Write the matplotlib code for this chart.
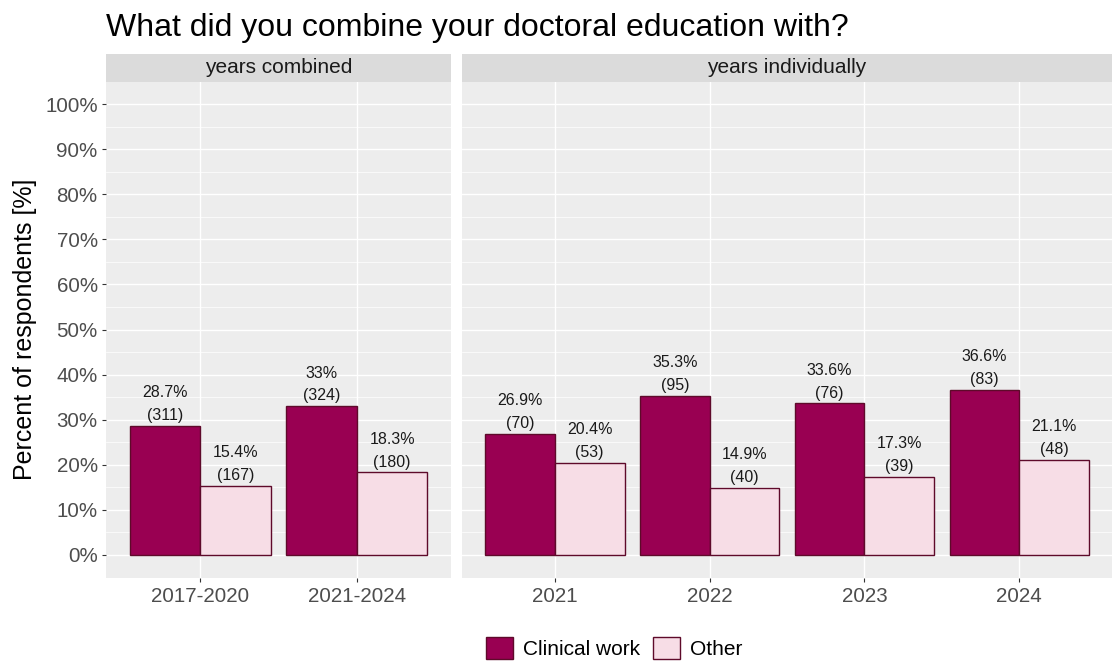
import numpy as np
import matplotlib
matplotlib.use('Agg')
import matplotlib.pyplot as plt
from matplotlib.patches import Patch

plt.rcParams['font.family'] = ['Liberation Sans', 'DejaVu Sans']

# data
panels = ['years combined', 'years individually']
cats_combined = ['2017-2020', '2021-2024']
cats_single = ['2021', '2022', '2023', '2024']
clin_combined = [28.7, 33.0]
clin_combined_n = [311, 324]
other_combined = [15.4, 18.3]
other_combined_n = [167, 180]
clin_single = [26.9, 35.3, 33.6, 36.6]
clin_single_n = [70, 95, 76, 83]
other_single = [20.4, 14.9, 17.3, 21.1]
other_single_n = [53, 40, 39, 48]
series = ['Clinical work', 'Other']

c_clin = '#990052'
c_other = '#F7DDE6'
c_edge = '#5E0A2A'
panel_bg = '#EDEDED'
strip_bg = '#DBDBDB'

W, H = 1114, 664
fig = plt.figure(figsize=(W / 100, H / 100), dpi=100)

def fx(px):
    return px / W

def fy(py):
    return 1 - py / H

p_top, p_bot = 81.5, 577.5
s_top = 54
boxes = [(106, 451), (462, 1112)]

def fmt(v):
    s = ('%.1f' % v).rstrip('0').rstrip('.')
    return s + '%'

data = [(cats_combined, clin_combined, clin_combined_n, other_combined, other_combined_n),
        (cats_single, clin_single, clin_single_n, other_single, other_single_n)]

for i, (x0, x1) in enumerate(boxes):
    cats, cv, cn, ov, on = data[i]
    ax = fig.add_axes([fx(x0), fy(p_bot), fx(x1 - x0), (p_bot - p_top) / H])
    ax.set_facecolor(panel_bg)
    x = np.arange(len(cats))
    w = 0.45
    ax.set_xlim(-0.6, len(cats) - 0.4)
    ax.set_ylim(-5, 105)
    for y in range(0, 101, 10):
        ax.axhline(y, color='white', lw=1.0, zorder=0)
    for y in range(5, 100, 10):
        ax.axhline(y, color='white', lw=0.5, zorder=0)
    for xi in x:
        ax.axvline(xi, color='white', lw=1.0, zorder=0)
    ax.bar(x - w / 2, cv, w, color=c_clin, edgecolor=c_edge, lw=1.0, zorder=2)
    ax.bar(x + w / 2, ov, w, color=c_other, edgecolor=c_edge, lw=1.0, zorder=2)
    for xi, v, n in zip(x, cv, cn):
        ax.annotate('%s\n(%d)' % (fmt(v), n), (xi - w / 2, v), xytext=(0, 2),
                    textcoords='offset points', ha='center', va='bottom',
                    fontsize=11.5, color='#1A1A1A', linespacing=1.65)
    for xi, v, n in zip(x, ov, on):
        ax.annotate('%s\n(%d)' % (fmt(v), n), (xi + w / 2, v), xytext=(0, 2),
                    textcoords='offset points', ha='center', va='bottom',
                    fontsize=11.5, color='#1A1A1A', linespacing=1.65)
    for sp in ax.spines.values():
        sp.set_visible(False)
    ax.set_xticks(x)
    ax.set_xticklabels(cats, fontsize=14.8, color='#4D4D4D')
    ax.tick_params(axis='x', length=3, color='#333333', pad=4)
    if i == 0:
        ax.set_yticks(range(0, 101, 10))
        ax.set_yticklabels(['%d%%' % t for t in range(0, 101, 10)],
                           fontsize=14.8, color='#4D4D4D')
        ax.tick_params(axis='y', length=3, color='#333333', pad=3)
        ax.set_ylabel('Percent of respondents [%]', fontsize=18, labelpad=6)
    else:
        ax.set_yticks([])
    # strip
    sax = fig.add_axes([fx(x0), fy(p_top), fx(x1 - x0), (p_top - s_top) / H])
    sax.set_facecolor(strip_bg)
    sax.set_xticks([])
    sax.set_yticks([])
    for sp in sax.spines.values():
        sp.set_visible(False)
    sax.text(0.5, 0.5, panels[i], ha='center', va='center', fontsize=15,
             color='#1A1A1A', transform=sax.transAxes)

fig.text(fx(106), fy(36), 'What did you combine your doctoral education with?',
         fontsize=23, ha='left', va='baseline', color='black')

handles = [Patch(facecolor=c_clin, edgecolor=c_edge, label=series[0]),
           Patch(facecolor=c_other, edgecolor=c_edge, label=series[1])]
fig.legend(handles=handles, loc='center', bbox_to_anchor=(fx(614), fy(648)),
           ncol=2, frameon=False, fontsize=15, handlelength=1.3,
           handleheight=1.3, handletextpad=0.5, columnspacing=0.6)

fig.savefig('out.png', dpi=100)
